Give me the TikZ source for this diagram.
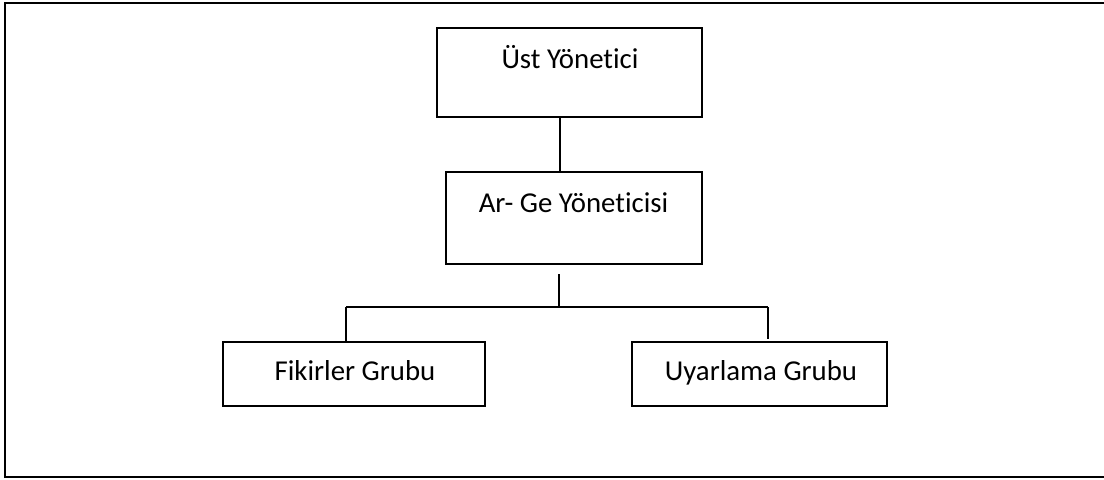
\documentclass[tikz,border=0pt]{standalone}
\usepackage{fontspec}
\setmainfont[Ligatures={NoCommon}]{Carlito}
\usetikzlibrary{positioning}
\begin{document}
\begin{tikzpicture}[x=0.75pt,y=-0.75pt,
  box/.style={draw=black,line width=0.9pt,rectangle,inner sep=0pt},
  lbl/.style={anchor=base,inner sep=0pt,font=\fontsize{21.6}{24}\selectfont},
  link/.style={draw=black,line width=0.9pt},
  frame/.style={draw=black,line width=1.5pt}]
\useasboundingbox (0,0) rectangle (1104,479);
% page frame, open at the right edge
\draw[frame] (1110,3) -- (5,3) -- (5,477) -- (1110,477);

% boxes
\node[box,minimum width=265*0.75pt,minimum height=89*0.75pt] (top) at (569.5,72.5) {};
\node[box,minimum width=256*0.75pt,minimum height=92*0.75pt] (mgr) at (574,218) {};
\node[box,minimum width=262*0.75pt,minimum height=64*0.75pt] (ideas) at (354,374) {};
\node[box,minimum width=255*0.75pt,minimum height=64*0.75pt] (adapt) at (759.5,374) {};

% labels
\node[lbl] (topT) at (570,68) {Üst Yönetici};
\node[lbl] (mgrT) at (573.5,212) {Ar- Ge Yöneticisi};
\node[lbl] (ideasT) at (355,380) {Fikirler Grubu};
\node[lbl] (adaptT) at (761,380) {Uyarlama Grubu};

% connector points
\coordinate (spine) at (560,0);
\coordinate (stub) at (559,274);
\coordinate (hub) at (559,307);
\coordinate (busL) at (346,307);
\coordinate (busR) at (768,307);
\coordinate (dropR) at (768,339);

% connectors
\draw[link] (top.south -| spine) -- (mgr.north -| spine);
\draw[link] (stub) -- (hub);
\draw[link] (busL) -- (busR);
\draw[link] (busL) -- (ideas.north -| busL);
\draw[link] (busR) -- (dropR);
\end{tikzpicture}
\end{document}
